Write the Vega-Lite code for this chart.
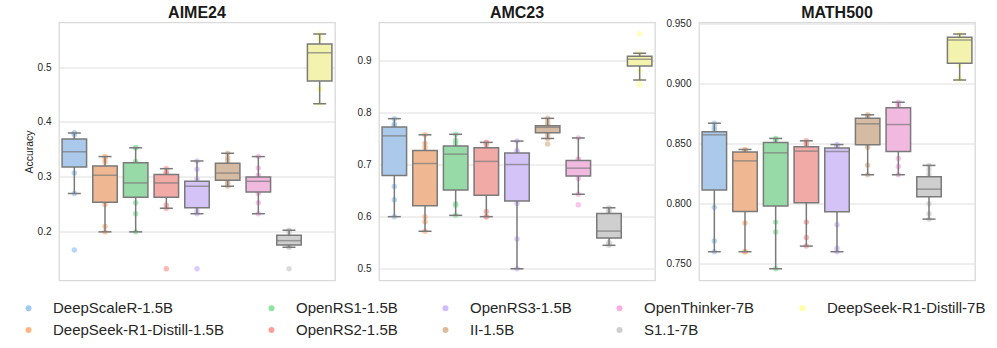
{
"$schema": "https://vega.github.io/schema/vega-lite/v6.json",
"autosize": {"type": "pad"},
"padding": {"left": 20, "top": 3.5, "right": 5, "bottom": 0},
"background": "white",
"data": {"values": [
{"b":"AIME24","m":"DeepScaleR-1.5B","v":0.167},{"b":"AIME24","m":"DeepScaleR-1.5B","v":0.27},{"b":"AIME24","m":"DeepScaleR-1.5B","v":0.307},{"b":"AIME24","m":"DeepScaleR-1.5B","v":0.3217},{"b":"AIME24","m":"DeepScaleR-1.5B","v":0.33},{"b":"AIME24","m":"DeepScaleR-1.5B","v":0.343},{"b":"AIME24","m":"DeepScaleR-1.5B","v":0.349},{"b":"AIME24","m":"DeepScaleR-1.5B","v":0.358},{"b":"AIME24","m":"DeepScaleR-1.5B","v":0.3663},{"b":"AIME24","m":"DeepScaleR-1.5B","v":0.377},{"b":"AIME24","m":"DeepScaleR-1.5B","v":0.38},{"b":"AIME24","m":"DeepScaleR-1.5B","v":0.38},
{"b":"AIME24","m":"DeepSeek-R1-Distill-1.5B","v":0.2},{"b":"AIME24","m":"DeepSeek-R1-Distill-1.5B","v":0.21},{"b":"AIME24","m":"DeepSeek-R1-Distill-1.5B","v":0.25},{"b":"AIME24","m":"DeepSeek-R1-Distill-1.5B","v":0.2553},{"b":"AIME24","m":"DeepSeek-R1-Distill-1.5B","v":0.28},{"b":"AIME24","m":"DeepSeek-R1-Distill-1.5B","v":0.3},{"b":"AIME24","m":"DeepSeek-R1-Distill-1.5B","v":0.306},{"b":"AIME24","m":"DeepSeek-R1-Distill-1.5B","v":0.312},{"b":"AIME24","m":"DeepSeek-R1-Distill-1.5B","v":0.3177},{"b":"AIME24","m":"DeepSeek-R1-Distill-1.5B","v":0.327},{"b":"AIME24","m":"DeepSeek-R1-Distill-1.5B","v":0.333},{"b":"AIME24","m":"DeepSeek-R1-Distill-1.5B","v":0.337},
{"b":"AIME24","m":"OpenRS1-1.5B","v":0.2},{"b":"AIME24","m":"OpenRS1-1.5B","v":0.233},{"b":"AIME24","m":"OpenRS1-1.5B","v":0.253},{"b":"AIME24","m":"OpenRS1-1.5B","v":0.2663},{"b":"AIME24","m":"OpenRS1-1.5B","v":0.275},{"b":"AIME24","m":"OpenRS1-1.5B","v":0.287},{"b":"AIME24","m":"OpenRS1-1.5B","v":0.291},{"b":"AIME24","m":"OpenRS1-1.5B","v":0.31},{"b":"AIME24","m":"OpenRS1-1.5B","v":0.3253},{"b":"AIME24","m":"OpenRS1-1.5B","v":0.328},{"b":"AIME24","m":"OpenRS1-1.5B","v":0.353},{"b":"AIME24","m":"OpenRS1-1.5B","v":0.353},
{"b":"AIME24","m":"OpenRS2-1.5B","v":0.133},{"b":"AIME24","m":"OpenRS2-1.5B","v":0.243},{"b":"AIME24","m":"OpenRS2-1.5B","v":0.249},{"b":"AIME24","m":"OpenRS2-1.5B","v":0.2677},{"b":"AIME24","m":"OpenRS2-1.5B","v":0.278},{"b":"AIME24","m":"OpenRS2-1.5B","v":0.287},{"b":"AIME24","m":"OpenRS2-1.5B","v":0.291},{"b":"AIME24","m":"OpenRS2-1.5B","v":0.297},{"b":"AIME24","m":"OpenRS2-1.5B","v":0.3037},{"b":"AIME24","m":"OpenRS2-1.5B","v":0.307},{"b":"AIME24","m":"OpenRS2-1.5B","v":0.308},{"b":"AIME24","m":"OpenRS2-1.5B","v":0.315},
{"b":"AIME24","m":"OpenRS3-1.5B","v":0.133},{"b":"AIME24","m":"OpenRS3-1.5B","v":0.233},{"b":"AIME24","m":"OpenRS3-1.5B","v":0.238},{"b":"AIME24","m":"OpenRS3-1.5B","v":0.246},{"b":"AIME24","m":"OpenRS3-1.5B","v":0.265},{"b":"AIME24","m":"OpenRS3-1.5B","v":0.281},{"b":"AIME24","m":"OpenRS3-1.5B","v":0.285},{"b":"AIME24","m":"OpenRS3-1.5B","v":0.288},{"b":"AIME24","m":"OpenRS3-1.5B","v":0.2907},{"b":"AIME24","m":"OpenRS3-1.5B","v":0.296},{"b":"AIME24","m":"OpenRS3-1.5B","v":0.314},{"b":"AIME24","m":"OpenRS3-1.5B","v":0.329},
{"b":"AIME24","m":"II-1.5B","v":0.283},{"b":"AIME24","m":"II-1.5B","v":0.287},{"b":"AIME24","m":"II-1.5B","v":0.29},{"b":"AIME24","m":"II-1.5B","v":0.2953},{"b":"AIME24","m":"II-1.5B","v":0.3},{"b":"AIME24","m":"II-1.5B","v":0.305},{"b":"AIME24","m":"II-1.5B","v":0.309},{"b":"AIME24","m":"II-1.5B","v":0.315},{"b":"AIME24","m":"II-1.5B","v":0.3233},{"b":"AIME24","m":"II-1.5B","v":0.33},{"b":"AIME24","m":"II-1.5B","v":0.335},{"b":"AIME24","m":"II-1.5B","v":0.343},
{"b":"AIME24","m":"OpenThinker-7B","v":0.233},{"b":"AIME24","m":"OpenThinker-7B","v":0.253},{"b":"AIME24","m":"OpenThinker-7B","v":0.27},{"b":"AIME24","m":"OpenThinker-7B","v":0.2731},{"b":"AIME24","m":"OpenThinker-7B","v":0.282},{"b":"AIME24","m":"OpenThinker-7B","v":0.291},{"b":"AIME24","m":"OpenThinker-7B","v":0.293},{"b":"AIME24","m":"OpenThinker-7B","v":0.296},{"b":"AIME24","m":"OpenThinker-7B","v":0.299},{"b":"AIME24","m":"OpenThinker-7B","v":0.303},{"b":"AIME24","m":"OpenThinker-7B","v":0.316},{"b":"AIME24","m":"OpenThinker-7B","v":0.337},
{"b":"AIME24","m":"S1.1-7B","v":0.133},{"b":"AIME24","m":"S1.1-7B","v":0.172},{"b":"AIME24","m":"S1.1-7B","v":0.173},{"b":"AIME24","m":"S1.1-7B","v":0.177},{"b":"AIME24","m":"S1.1-7B","v":0.18},{"b":"AIME24","m":"S1.1-7B","v":0.183},{"b":"AIME24","m":"S1.1-7B","v":0.185},{"b":"AIME24","m":"S1.1-7B","v":0.188},{"b":"AIME24","m":"S1.1-7B","v":0.192},{"b":"AIME24","m":"S1.1-7B","v":0.2},{"b":"AIME24","m":"S1.1-7B","v":0.202},{"b":"AIME24","m":"S1.1-7B","v":0.203},
{"b":"AIME24","m":"DeepSeek-R1-Distill-7B","v":0.433},{"b":"AIME24","m":"DeepSeek-R1-Distill-7B","v":0.46},{"b":"AIME24","m":"DeepSeek-R1-Distill-7B","v":0.46},{"b":"AIME24","m":"DeepSeek-R1-Distill-7B","v":0.4793},{"b":"AIME24","m":"DeepSeek-R1-Distill-7B","v":0.5},{"b":"AIME24","m":"DeepSeek-R1-Distill-7B","v":0.52},{"b":"AIME24","m":"DeepSeek-R1-Distill-7B","v":0.532},{"b":"AIME24","m":"DeepSeek-R1-Distill-7B","v":0.536},{"b":"AIME24","m":"DeepSeek-R1-Distill-7B","v":0.5393},{"b":"AIME24","m":"DeepSeek-R1-Distill-7B","v":0.55},{"b":"AIME24","m":"DeepSeek-R1-Distill-7B","v":0.555},{"b":"AIME24","m":"DeepSeek-R1-Distill-7B","v":0.56},
{"b":"AMC23","m":"DeepScaleR-1.5B","v":0.6},{"b":"AMC23","m":"DeepScaleR-1.5B","v":0.6325},{"b":"AMC23","m":"DeepScaleR-1.5B","v":0.658},{"b":"AMC23","m":"DeepScaleR-1.5B","v":0.686},{"b":"AMC23","m":"DeepScaleR-1.5B","v":0.72},{"b":"AMC23","m":"DeepScaleR-1.5B","v":0.75},{"b":"AMC23","m":"DeepScaleR-1.5B","v":0.76},{"b":"AMC23","m":"DeepScaleR-1.5B","v":0.765},{"b":"AMC23","m":"DeepScaleR-1.5B","v":0.771},{"b":"AMC23","m":"DeepScaleR-1.5B","v":0.775},{"b":"AMC23","m":"DeepScaleR-1.5B","v":0.778},{"b":"AMC23","m":"DeepScaleR-1.5B","v":0.788},
{"b":"AMC23","m":"DeepSeek-R1-Distill-1.5B","v":0.572},{"b":"AMC23","m":"DeepSeek-R1-Distill-1.5B","v":0.59},{"b":"AMC23","m":"DeepSeek-R1-Distill-1.5B","v":0.6},{"b":"AMC23","m":"DeepSeek-R1-Distill-1.5B","v":0.628},{"b":"AMC23","m":"DeepSeek-R1-Distill-1.5B","v":0.66},{"b":"AMC23","m":"DeepSeek-R1-Distill-1.5B","v":0.7},{"b":"AMC23","m":"DeepSeek-R1-Distill-1.5B","v":0.704},{"b":"AMC23","m":"DeepSeek-R1-Distill-1.5B","v":0.715},{"b":"AMC23","m":"DeepSeek-R1-Distill-1.5B","v":0.725},{"b":"AMC23","m":"DeepSeek-R1-Distill-1.5B","v":0.733},{"b":"AMC23","m":"DeepSeek-R1-Distill-1.5B","v":0.741},{"b":"AMC23","m":"DeepSeek-R1-Distill-1.5B","v":0.757},
{"b":"AMC23","m":"OpenRS1-1.5B","v":0.6025},{"b":"AMC23","m":"OpenRS1-1.5B","v":0.622},{"b":"AMC23","m":"OpenRS1-1.5B","v":0.625},{"b":"AMC23","m":"OpenRS1-1.5B","v":0.6597},{"b":"AMC23","m":"OpenRS1-1.5B","v":0.69},{"b":"AMC23","m":"OpenRS1-1.5B","v":0.718},{"b":"AMC23","m":"OpenRS1-1.5B","v":0.722},{"b":"AMC23","m":"OpenRS1-1.5B","v":0.728},{"b":"AMC23","m":"OpenRS1-1.5B","v":0.7337},{"b":"AMC23","m":"OpenRS1-1.5B","v":0.741},{"b":"AMC23","m":"OpenRS1-1.5B","v":0.746},{"b":"AMC23","m":"OpenRS1-1.5B","v":0.758},
{"b":"AMC23","m":"OpenRS2-1.5B","v":0.6},{"b":"AMC23","m":"OpenRS2-1.5B","v":0.6},{"b":"AMC23","m":"OpenRS2-1.5B","v":0.61},{"b":"AMC23","m":"OpenRS2-1.5B","v":0.6513},{"b":"AMC23","m":"OpenRS2-1.5B","v":0.68},{"b":"AMC23","m":"OpenRS2-1.5B","v":0.704},{"b":"AMC23","m":"OpenRS2-1.5B","v":0.708},{"b":"AMC23","m":"OpenRS2-1.5B","v":0.72},{"b":"AMC23","m":"OpenRS2-1.5B","v":0.73},{"b":"AMC23","m":"OpenRS2-1.5B","v":0.738},{"b":"AMC23","m":"OpenRS2-1.5B","v":0.7425},{"b":"AMC23","m":"OpenRS2-1.5B","v":0.7425},
{"b":"AMC23","m":"OpenRS3-1.5B","v":0.5},{"b":"AMC23","m":"OpenRS3-1.5B","v":0.557},{"b":"AMC23","m":"OpenRS3-1.5B","v":0.625},{"b":"AMC23","m":"OpenRS3-1.5B","v":0.6317},{"b":"AMC23","m":"OpenRS3-1.5B","v":0.665},{"b":"AMC23","m":"OpenRS3-1.5B","v":0.698},{"b":"AMC23","m":"OpenRS3-1.5B","v":0.702},{"b":"AMC23","m":"OpenRS3-1.5B","v":0.712},{"b":"AMC23","m":"OpenRS3-1.5B","v":0.721},{"b":"AMC23","m":"OpenRS3-1.5B","v":0.725},{"b":"AMC23","m":"OpenRS3-1.5B","v":0.727},{"b":"AMC23","m":"OpenRS3-1.5B","v":0.745},
{"b":"AMC23","m":"II-1.5B","v":0.7395},{"b":"AMC23","m":"II-1.5B","v":0.75},{"b":"AMC23","m":"II-1.5B","v":0.757},{"b":"AMC23","m":"II-1.5B","v":0.7623},{"b":"AMC23","m":"II-1.5B","v":0.766},{"b":"AMC23","m":"II-1.5B","v":0.771},{"b":"AMC23","m":"II-1.5B","v":0.7718},{"b":"AMC23","m":"II-1.5B","v":0.773},{"b":"AMC23","m":"II-1.5B","v":0.7738},{"b":"AMC23","m":"II-1.5B","v":0.777},{"b":"AMC23","m":"II-1.5B","v":0.782},{"b":"AMC23","m":"II-1.5B","v":0.7886},
{"b":"AMC23","m":"OpenThinker-7B","v":0.623},{"b":"AMC23","m":"OpenThinker-7B","v":0.643},{"b":"AMC23","m":"OpenThinker-7B","v":0.673},{"b":"AMC23","m":"OpenThinker-7B","v":0.6797},{"b":"AMC23","m":"OpenThinker-7B","v":0.686},{"b":"AMC23","m":"OpenThinker-7B","v":0.692},{"b":"AMC23","m":"OpenThinker-7B","v":0.694},{"b":"AMC23","m":"OpenThinker-7B","v":0.7},{"b":"AMC23","m":"OpenThinker-7B","v":0.7067},{"b":"AMC23","m":"OpenThinker-7B","v":0.71},{"b":"AMC23","m":"OpenThinker-7B","v":0.71},{"b":"AMC23","m":"OpenThinker-7B","v":0.751},
{"b":"AMC23","m":"S1.1-7B","v":0.545},{"b":"AMC23","m":"S1.1-7B","v":0.5486},{"b":"AMC23","m":"S1.1-7B","v":0.5506},{"b":"AMC23","m":"S1.1-7B","v":0.5618},{"b":"AMC23","m":"S1.1-7B","v":0.566},{"b":"AMC23","m":"S1.1-7B","v":0.571},{"b":"AMC23","m":"S1.1-7B","v":0.5736},{"b":"AMC23","m":"S1.1-7B","v":0.59},{"b":"AMC23","m":"S1.1-7B","v":0.6049},{"b":"AMC23","m":"S1.1-7B","v":0.61},{"b":"AMC23","m":"S1.1-7B","v":0.612},{"b":"AMC23","m":"S1.1-7B","v":0.617},
{"b":"AMC23","m":"DeepSeek-R1-Distill-7B","v":0.8526},{"b":"AMC23","m":"DeepSeek-R1-Distill-7B","v":0.862},{"b":"AMC23","m":"DeepSeek-R1-Distill-7B","v":0.88},{"b":"AMC23","m":"DeepSeek-R1-Distill-7B","v":0.8921},{"b":"AMC23","m":"DeepSeek-R1-Distill-7B","v":0.896},{"b":"AMC23","m":"DeepSeek-R1-Distill-7B","v":0.9},{"b":"AMC23","m":"DeepSeek-R1-Distill-7B","v":0.9038},{"b":"AMC23","m":"DeepSeek-R1-Distill-7B","v":0.905},{"b":"AMC23","m":"DeepSeek-R1-Distill-7B","v":0.9063},{"b":"AMC23","m":"DeepSeek-R1-Distill-7B","v":0.912},{"b":"AMC23","m":"DeepSeek-R1-Distill-7B","v":0.9134},{"b":"AMC23","m":"DeepSeek-R1-Distill-7B","v":0.9506},
{"b":"MATH500","m":"DeepScaleR-1.5B","v":0.76},{"b":"MATH500","m":"DeepScaleR-1.5B","v":0.769},{"b":"MATH500","m":"DeepScaleR-1.5B","v":0.797},{"b":"MATH500","m":"DeepScaleR-1.5B","v":0.8162},{"b":"MATH500","m":"DeepScaleR-1.5B","v":0.84},{"b":"MATH500","m":"DeepScaleR-1.5B","v":0.857},{"b":"MATH500","m":"DeepScaleR-1.5B","v":0.858},{"b":"MATH500","m":"DeepScaleR-1.5B","v":0.8585},{"b":"MATH500","m":"DeepScaleR-1.5B","v":0.8593},{"b":"MATH500","m":"DeepScaleR-1.5B","v":0.862},{"b":"MATH500","m":"DeepScaleR-1.5B","v":0.8639},{"b":"MATH500","m":"DeepScaleR-1.5B","v":0.8672},
{"b":"MATH500","m":"DeepSeek-R1-Distill-1.5B","v":0.76},{"b":"MATH500","m":"DeepSeek-R1-Distill-1.5B","v":0.76},{"b":"MATH500","m":"DeepSeek-R1-Distill-1.5B","v":0.784},{"b":"MATH500","m":"DeepSeek-R1-Distill-1.5B","v":0.7968},{"b":"MATH500","m":"DeepSeek-R1-Distill-1.5B","v":0.815},{"b":"MATH500","m":"DeepSeek-R1-Distill-1.5B","v":0.835},{"b":"MATH500","m":"DeepSeek-R1-Distill-1.5B","v":0.8366},{"b":"MATH500","m":"DeepSeek-R1-Distill-1.5B","v":0.84},{"b":"MATH500","m":"DeepSeek-R1-Distill-1.5B","v":0.8429},{"b":"MATH500","m":"DeepSeek-R1-Distill-1.5B","v":0.8444},{"b":"MATH500","m":"DeepSeek-R1-Distill-1.5B","v":0.8447},{"b":"MATH500","m":"DeepSeek-R1-Distill-1.5B","v":0.8453},
{"b":"MATH500","m":"OpenRS1-1.5B","v":0.7458},{"b":"MATH500","m":"OpenRS1-1.5B","v":0.7764},{"b":"MATH500","m":"OpenRS1-1.5B","v":0.7847},{"b":"MATH500","m":"OpenRS1-1.5B","v":0.8026},{"b":"MATH500","m":"OpenRS1-1.5B","v":0.82},{"b":"MATH500","m":"OpenRS1-1.5B","v":0.841},{"b":"MATH500","m":"OpenRS1-1.5B","v":0.844},{"b":"MATH500","m":"OpenRS1-1.5B","v":0.848},{"b":"MATH500","m":"OpenRS1-1.5B","v":0.8504},{"b":"MATH500","m":"OpenRS1-1.5B","v":0.8533},{"b":"MATH500","m":"OpenRS1-1.5B","v":0.854},{"b":"MATH500","m":"OpenRS1-1.5B","v":0.8545},
{"b":"MATH500","m":"OpenRS2-1.5B","v":0.7647},{"b":"MATH500","m":"OpenRS2-1.5B","v":0.7719},{"b":"MATH500","m":"OpenRS2-1.5B","v":0.7847},{"b":"MATH500","m":"OpenRS2-1.5B","v":0.8062},{"b":"MATH500","m":"OpenRS2-1.5B","v":0.825},{"b":"MATH500","m":"OpenRS2-1.5B","v":0.8435},{"b":"MATH500","m":"OpenRS2-1.5B","v":0.8443},{"b":"MATH500","m":"OpenRS2-1.5B","v":0.846},{"b":"MATH500","m":"OpenRS2-1.5B","v":0.8469},{"b":"MATH500","m":"OpenRS2-1.5B","v":0.8494},{"b":"MATH500","m":"OpenRS2-1.5B","v":0.851},{"b":"MATH500","m":"OpenRS2-1.5B","v":0.8525},
{"b":"MATH500","m":"OpenRS3-1.5B","v":0.76},{"b":"MATH500","m":"OpenRS3-1.5B","v":0.763},{"b":"MATH500","m":"OpenRS3-1.5B","v":0.7825},{"b":"MATH500","m":"OpenRS3-1.5B","v":0.7969},{"b":"MATH500","m":"OpenRS3-1.5B","v":0.82},{"b":"MATH500","m":"OpenRS3-1.5B","v":0.8432},{"b":"MATH500","m":"OpenRS3-1.5B","v":0.844},{"b":"MATH500","m":"OpenRS3-1.5B","v":0.845},{"b":"MATH500","m":"OpenRS3-1.5B","v":0.8459},{"b":"MATH500","m":"OpenRS3-1.5B","v":0.848},{"b":"MATH500","m":"OpenRS3-1.5B","v":0.8485},{"b":"MATH500","m":"OpenRS3-1.5B","v":0.8494},
{"b":"MATH500","m":"II-1.5B","v":0.8242},{"b":"MATH500","m":"II-1.5B","v":0.8322},{"b":"MATH500","m":"II-1.5B","v":0.8472},{"b":"MATH500","m":"II-1.5B","v":0.8499},{"b":"MATH500","m":"II-1.5B","v":0.858},{"b":"MATH500","m":"II-1.5B","v":0.866},{"b":"MATH500","m":"II-1.5B","v":0.8674},{"b":"MATH500","m":"II-1.5B","v":0.869},{"b":"MATH500","m":"II-1.5B","v":0.8709},{"b":"MATH500","m":"II-1.5B","v":0.8728},{"b":"MATH500","m":"II-1.5B","v":0.8735},{"b":"MATH500","m":"II-1.5B","v":0.8742},
{"b":"MATH500","m":"OpenThinker-7B","v":0.8242},{"b":"MATH500","m":"OpenThinker-7B","v":0.8311},{"b":"MATH500","m":"OpenThinker-7B","v":0.8378},{"b":"MATH500","m":"OpenThinker-7B","v":0.8455},{"b":"MATH500","m":"OpenThinker-7B","v":0.855},{"b":"MATH500","m":"OpenThinker-7B","v":0.865},{"b":"MATH500","m":"OpenThinker-7B","v":0.8672},{"b":"MATH500","m":"OpenThinker-7B","v":0.874},{"b":"MATH500","m":"OpenThinker-7B","v":0.8794},{"b":"MATH500","m":"OpenThinker-7B","v":0.8819},{"b":"MATH500","m":"OpenThinker-7B","v":0.883},{"b":"MATH500","m":"OpenThinker-7B","v":0.8847},
{"b":"MATH500","m":"S1.1-7B","v":0.7872},{"b":"MATH500","m":"S1.1-7B","v":0.7917},{"b":"MATH500","m":"S1.1-7B","v":0.8},{"b":"MATH500","m":"S1.1-7B","v":0.8077},{"b":"MATH500","m":"S1.1-7B","v":0.81},{"b":"MATH500","m":"S1.1-7B","v":0.8115},{"b":"MATH500","m":"S1.1-7B","v":0.8129},{"b":"MATH500","m":"S1.1-7B","v":0.818},{"b":"MATH500","m":"S1.1-7B","v":0.8218},{"b":"MATH500","m":"S1.1-7B","v":0.8247},{"b":"MATH500","m":"S1.1-7B","v":0.8283},{"b":"MATH500","m":"S1.1-7B","v":0.832},
{"b":"MATH500","m":"DeepSeek-R1-Distill-7B","v":0.9033},{"b":"MATH500","m":"DeepSeek-R1-Distill-7B","v":0.905},{"b":"MATH500","m":"DeepSeek-R1-Distill-7B","v":0.9153},{"b":"MATH500","m":"DeepSeek-R1-Distill-7B","v":0.9178},{"b":"MATH500","m":"DeepSeek-R1-Distill-7B","v":0.928},{"b":"MATH500","m":"DeepSeek-R1-Distill-7B","v":0.9362},{"b":"MATH500","m":"DeepSeek-R1-Distill-7B","v":0.9372},{"b":"MATH500","m":"DeepSeek-R1-Distill-7B","v":0.938},{"b":"MATH500","m":"DeepSeek-R1-Distill-7B","v":0.9384},{"b":"MATH500","m":"DeepSeek-R1-Distill-7B","v":0.9405},{"b":"MATH500","m":"DeepSeek-R1-Distill-7B","v":0.941},{"b":"MATH500","m":"DeepSeek-R1-Distill-7B","v":0.9417}
]},
"spacing": 44,
"bounds": "flush",
"hconcat": [
{
 "width": 276, "height": 258,
 "title": {"text": "AIME24", "offset": 1.5},
 "transform": [{"filter": "datum.b === 'AIME24'"}],
 "layer": [
  {"mark": {"type": "circle", "size": 30, "opacity": 0.75},
   "encoding": {
    "x": {"field": "m", "type": "nominal", "scale": {"domain": ["DeepScaleR-1.5B","DeepSeek-R1-Distill-1.5B","OpenRS1-1.5B","OpenRS2-1.5B","OpenRS3-1.5B","II-1.5B","OpenThinker-7B","S1.1-7B","DeepSeek-R1-Distill-7B"], "paddingInner": 0, "paddingOuter": 0}, "axis": null},
    "y": {"field": "v", "type": "quantitative", "title": "Accuracy", "scale": {"domain": [0.1115, 0.581], "nice": false, "zero": false}, "axis": {"values": [0.2, 0.3, 0.4, 0.5], "format": ".1f"}},
    "color": {"field": "m", "type": "nominal",
     "scale": {"domain": ["DeepScaleR-1.5B","DeepSeek-R1-Distill-1.5B","OpenRS1-1.5B","OpenRS2-1.5B","OpenRS3-1.5B","II-1.5B","OpenThinker-7B","S1.1-7B","DeepSeek-R1-Distill-7B"], "range": ["#a1c9f4","#ffb482","#8de5a1","#ff9f9b","#d0bbff","#debb9b","#fab0e4","#cfcfcf","#fffea3"]},
     "legend": {"orient": "none", "legendX": -38, "legendY": 278, "columns": 5, "direction": "vertical", "title": null, "symbolType": "circle", "symbolSize": 36, "symbolOpacity": 1, "symbolStrokeWidth": 0, "labelFont": "Liberation Sans", "labelFontSize": 15, "labelColor": "#262626", "labelOffset": 17, "columnPadding": 40, "rowPadding": 6, "padding": 0, "labelLimit": 400}}
   }},
  {"mark": {"type": "boxplot", "extent": 1.5, "size": 24.5, "outliers": false, "box": {"stroke": "#7a7a7a", "strokeWidth": 1.5}, "median": {"color": "#7a7a7a", "thickness": 1.5}, "rule": {"color": "#7a7a7a", "strokeWidth": 1.5}, "ticks": {"color": "#7a7a7a", "size": 13, "thickness": 1.5}},
   "encoding": {
    "x": {"field": "m", "type": "nominal", "scale": {"domain": ["DeepScaleR-1.5B","DeepSeek-R1-Distill-1.5B","OpenRS1-1.5B","OpenRS2-1.5B","OpenRS3-1.5B","II-1.5B","OpenThinker-7B","S1.1-7B","DeepSeek-R1-Distill-7B"], "paddingInner": 0, "paddingOuter": 0}, "axis": null},
    "y": {"field": "v", "type": "quantitative", "title": "Accuracy"},
    "color": {"field": "m", "type": "nominal", "scale": {"domain": ["DeepScaleR-1.5B","DeepSeek-R1-Distill-1.5B","OpenRS1-1.5B","OpenRS2-1.5B","OpenRS3-1.5B","II-1.5B","OpenThinker-7B","S1.1-7B","DeepSeek-R1-Distill-7B"], "range": ["#abc9ea","#efb792","#98daa7","#f2aaa7","#d3c3f6","#d6bba3","#f1b9e0","#cfcfcf","#f3f3ae"]}, "legend": null}
   }}
 ],
 "resolve": {"scale": {"color": "independent"}}
},
{
 "width": 276, "height": 258,
 "title": {"text": "AMC23", "offset": 1.5},
 "transform": [{"filter": "datum.b === 'AMC23'"}],
 "layer": [
  {"mark": {"type": "circle", "size": 30, "opacity": 0.75},
   "encoding": {
    "x": {"field": "m", "type": "nominal", "scale": {"domain": ["DeepScaleR-1.5B","DeepSeek-R1-Distill-1.5B","OpenRS1-1.5B","OpenRS2-1.5B","OpenRS3-1.5B","II-1.5B","OpenThinker-7B","S1.1-7B","DeepSeek-R1-Distill-7B"], "paddingInner": 0, "paddingOuter": 0}, "axis": null},
    "y": {"field": "v", "type": "quantitative", "title": null, "scale": {"domain": [0.4775, 0.9725], "nice": false, "zero": false}, "axis": {"values": [0.5, 0.6, 0.7, 0.8, 0.9], "format": ".1f"}},
    "color": {"field": "m", "type": "nominal",
     "scale": {"domain": ["DeepScaleR-1.5B","DeepSeek-R1-Distill-1.5B","OpenRS1-1.5B","OpenRS2-1.5B","OpenRS3-1.5B","II-1.5B","OpenThinker-7B","S1.1-7B","DeepSeek-R1-Distill-7B"], "range": ["#a1c9f4","#ffb482","#8de5a1","#ff9f9b","#d0bbff","#debb9b","#fab0e4","#cfcfcf","#fffea3"]},
     "legend": null}
   }},
  {"mark": {"type": "boxplot", "extent": 1.5, "size": 24.5, "outliers": false, "box": {"stroke": "#7a7a7a", "strokeWidth": 1.5}, "median": {"color": "#7a7a7a", "thickness": 1.5}, "rule": {"color": "#7a7a7a", "strokeWidth": 1.5}, "ticks": {"color": "#7a7a7a", "size": 13, "thickness": 1.5}},
   "encoding": {
    "x": {"field": "m", "type": "nominal", "scale": {"domain": ["DeepScaleR-1.5B","DeepSeek-R1-Distill-1.5B","OpenRS1-1.5B","OpenRS2-1.5B","OpenRS3-1.5B","II-1.5B","OpenThinker-7B","S1.1-7B","DeepSeek-R1-Distill-7B"], "paddingInner": 0, "paddingOuter": 0}, "axis": null},
    "y": {"field": "v", "type": "quantitative", "title": null},
    "color": {"field": "m", "type": "nominal", "scale": {"domain": ["DeepScaleR-1.5B","DeepSeek-R1-Distill-1.5B","OpenRS1-1.5B","OpenRS2-1.5B","OpenRS3-1.5B","II-1.5B","OpenThinker-7B","S1.1-7B","DeepSeek-R1-Distill-7B"], "range": ["#abc9ea","#efb792","#98daa7","#f2aaa7","#d3c3f6","#d6bba3","#f1b9e0","#cfcfcf","#f3f3ae"]}, "legend": null}
   }}
 ],
 "resolve": {"scale": {"color": "independent"}}
},
{
 "width": 276, "height": 258,
 "title": {"text": "MATH500", "offset": -2.5},
 "transform": [{"filter": "datum.b === 'MATH500'"}],
 "layer": [
  {"mark": {"type": "circle", "size": 30, "opacity": 0.75},
   "encoding": {
    "x": {"field": "m", "type": "nominal", "scale": {"domain": ["DeepScaleR-1.5B","DeepSeek-R1-Distill-1.5B","OpenRS1-1.5B","OpenRS2-1.5B","OpenRS3-1.5B","II-1.5B","OpenThinker-7B","S1.1-7B","DeepSeek-R1-Distill-7B"], "paddingInner": 0, "paddingOuter": 0}, "axis": null},
    "y": {"field": "v", "type": "quantitative", "title": null, "scale": {"domain": [0.736, 0.9512], "nice": false, "zero": false}, "axis": {"values": [0.75, 0.775, 0.8, 0.825, 0.85, 0.875, 0.9, 0.925, 0.95], "format": ".3f"}},
    "color": {"field": "m", "type": "nominal",
     "scale": {"domain": ["DeepScaleR-1.5B","DeepSeek-R1-Distill-1.5B","OpenRS1-1.5B","OpenRS2-1.5B","OpenRS3-1.5B","II-1.5B","OpenThinker-7B","S1.1-7B","DeepSeek-R1-Distill-7B"], "range": ["#a1c9f4","#ffb482","#8de5a1","#ff9f9b","#d0bbff","#debb9b","#fab0e4","#cfcfcf","#fffea3"]},
     "legend": null}
   }},
  {"mark": {"type": "boxplot", "extent": 1.5, "size": 24.5, "outliers": false, "box": {"stroke": "#7a7a7a", "strokeWidth": 1.5}, "median": {"color": "#7a7a7a", "thickness": 1.5}, "rule": {"color": "#7a7a7a", "strokeWidth": 1.5}, "ticks": {"color": "#7a7a7a", "size": 13, "thickness": 1.5}},
   "encoding": {
    "x": {"field": "m", "type": "nominal", "scale": {"domain": ["DeepScaleR-1.5B","DeepSeek-R1-Distill-1.5B","OpenRS1-1.5B","OpenRS2-1.5B","OpenRS3-1.5B","II-1.5B","OpenThinker-7B","S1.1-7B","DeepSeek-R1-Distill-7B"], "paddingInner": 0, "paddingOuter": 0}, "axis": null},
    "y": {"field": "v", "type": "quantitative", "title": null},
    "color": {"field": "m", "type": "nominal", "scale": {"domain": ["DeepScaleR-1.5B","DeepSeek-R1-Distill-1.5B","OpenRS1-1.5B","OpenRS2-1.5B","OpenRS3-1.5B","II-1.5B","OpenThinker-7B","S1.1-7B","DeepSeek-R1-Distill-7B"], "range": ["#abc9ea","#efb792","#98daa7","#f2aaa7","#d3c3f6","#d6bba3","#f1b9e0","#cfcfcf","#f3f3ae"]}, "legend": null}
   }}
 ],
 "resolve": {"scale": {"color": "independent"}}
}
],
"config": {
 "font": "Liberation Sans",
 "view": {"stroke": "#d9d9d9", "strokeWidth": 1.3},
 "axis": {"labelFont": "Liberation Sans", "labelFontSize": 10, "labelColor": "#262626", "titleFont": "Liberation Sans", "titleFontSize": 10.5, "titleFontWeight": "normal", "titleColor": "#262626", "titlePadding": 3, "gridColor": "#dedede", "gridWidth": 1, "domain": false, "ticks": false, "labelPadding": 8},
 "title": {"font": "Liberation Sans", "fontSize": 16, "fontWeight": "bold", "color": "#1a1a1a", "anchor": "middle", "frame": "group"}
}
}
